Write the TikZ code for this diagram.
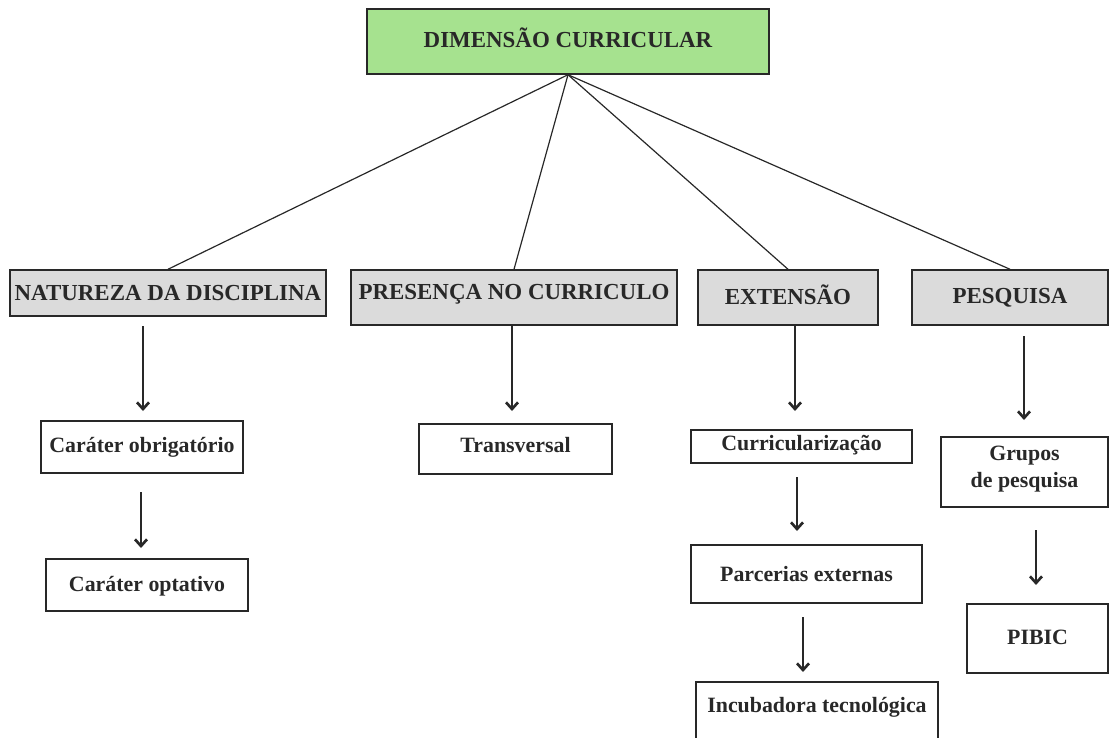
\documentclass[tikz,border=0pt]{standalone}
\usepackage{fontspec}
\setmainfont{Liberation Serif}
\usepackage{xcolor}
\usetikzlibrary{arrows.meta}
\definecolor{verde}{RGB}{166,226,143}
\definecolor{cinza}{RGB}{219,219,219}
\definecolor{traco}{RGB}{40,40,40}

\begin{document}
\begin{tikzpicture}[x=0.75pt,y=0.75pt,yscale=-1,xscale=1,
  caixa/.style={draw=traco, line width=1.1pt, inner sep=0pt, text=traco, align=center,
    font=\bfseries\fontsize{16.4}{20}\selectfont},
  titulo/.style={caixa, font=\bfseries\fontsize{17.2}{20}\selectfont},
  seta/.style={draw=traco, line width=2pt, -{Straight Barb[length=5pt,width=9pt]}},
  ramo/.style={draw=traco, line width=0.9pt}]
\useasboundingbox (0,0) rectangle (1109,738);

% Top box
\node (dim) [titulo, fill=verde, minimum width=301.5pt, minimum height=48.75pt, text depth=6pt] at (568,41.5) {DIMENSÃO CURRICULAR};

% Level 1
\node (nat) [titulo, fill=cinza, minimum width=237pt, minimum height=34.5pt] at (168,293) {NATUREZA DA DISCIPLINA};
\node (pre) [titulo, fill=cinza, minimum width=244.5pt, minimum height=41.25pt, text depth=9pt] at (514,297.5) {PRESENÇA NO CURRICULO};
\node (ext) [titulo, fill=cinza, minimum width=135pt, minimum height=41.25pt, text depth=5pt] at (788,297.5) {EXTENSÃO};
\node (pes) [titulo, fill=cinza, minimum width=147pt, minimum height=41.25pt] at (1010,297.5) {PESQUISA};

%Straight Lines
\draw [ramo] (dim.south) -- (nat.north);
\draw [ramo] (dim.south) -- (pre.north);
\draw [ramo] (dim.south) -- (ext.north);
\draw [ramo] (dim.south) -- (pes.north);

% Level 2
\node (obr) [caixa, minimum width=151.5pt, minimum height=39pt] at (142,447) {Caráter obrigatório};
\node (tra) [caixa, minimum width=144.75pt, minimum height=37.5pt, text depth=5.5pt] at (515.5,449) {Transversal};
\node (cur) [caixa, minimum width=165.75pt, minimum height=24.75pt, text depth=6pt] at (801.5,446.5) {Curricularização};
\node (gru) [caixa, minimum width=125.25pt, minimum height=52.5pt, text depth=8pt] at (1024.5,472) {Grupos\\de pesquisa};

% Level 3
\node (opt) [caixa, minimum width=151.5pt, minimum height=39pt, text depth=2pt] at (147,585) {Caráter optativo};
\node (par) [caixa, minimum width=173.25pt, minimum height=43.5pt] at (806.5,574) {Parcerias externas};
\node (inc) [caixa, minimum width=181.5pt, minimum height=47.25pt, text height=11pt, text depth=13pt] at (817,713.5) {Incubadora tecnológica};
\node (pib) [caixa, minimum width=105.75pt, minimum height=51.75pt, text depth=2pt] at (1037.5,638.5) {PIBIC};

% Arrow ends
\coordinate (natA) at (143,326);  \coordinate (obrA) at (143,411);
\coordinate (preA) at (512,326);  \coordinate (traA) at (512,411);
\coordinate (extA) at (795,326);  \coordinate (curA) at (795,411);
\coordinate (pesA) at (1024,336); \coordinate (gruA) at (1024,420);
\coordinate (obrB) at (141,492);  \coordinate (optB) at (141,548);
\coordinate (curB) at (797,477);  \coordinate (parB) at (797,531);
\coordinate (parC) at (803,617);  \coordinate (incC) at (803,672);
\coordinate (gruB) at (1036,530); \coordinate (pibB) at (1036,585);

% Arrows
\draw [seta] (natA) -- (obrA);
\draw [seta] (preA) -- (traA);
\draw [seta] (extA) -- (curA);
\draw [seta] (pesA) -- (gruA);
\draw [seta] (obrB) -- (optB);
\draw [seta] (curB) -- (parB);
\draw [seta] (parC) -- (incC);
\draw [seta] (gruB) -- (pibB);

\end{tikzpicture}
\end{document}
